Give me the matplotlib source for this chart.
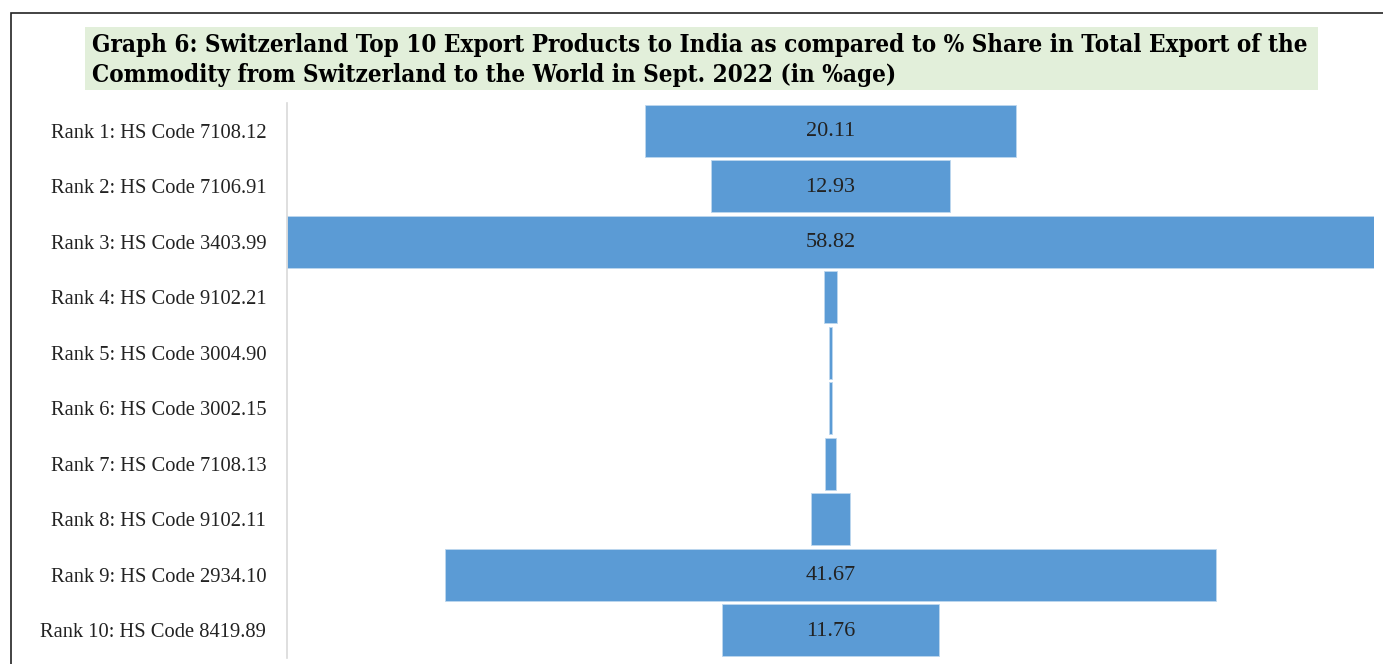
import matplotlib.pyplot as plt
from matplotlib.patches import Rectangle

ranks = ["Rank 1: HS Code 7108.12", "Rank 2: HS Code 7106.91", "Rank 3: HS Code 3403.99",
         "Rank 4: HS Code 9102.21", "Rank 5: HS Code 3004.90", "Rank 6: HS Code 3002.15",
         "Rank 7: HS Code 7108.13", "Rank 8: HS Code 9102.11", "Rank 9: HS Code 2934.10",
         "Rank 10: HS Code 8419.89"]
share = [20.11, 12.93, 58.82, 0.69, 0.18, 0.17, 0.58, 2.15, 41.67, 11.76]
shown = [True, True, True, False, False, False, False, False, True, True]

title = ("Graph 6: Switzerland Top 10 Export Products to India as compared to % Share in Total Export of the\n"
         "Commodity from Switzerland to the World in Sept. 2022 (in %age)")

fig = plt.figure(figsize=(13.83, 6.64), dpi=100)
W, H = 1383, 664

# outer frame
fig.patches.append(Rectangle((11 / W, -0.1), 1.2, (H - 13) / H + 0.1, transform=fig.transFigure,
                             fill=False, edgecolor='#222222', linewidth=1.2))
# title band
fig.patches.append(Rectangle((85 / W, 1 - 90 / H), (1318 - 85) / W, (90 - 27) / H,
                             transform=fig.transFigure, facecolor='#E2EFDA', edgecolor='none'))
fig.text(92 / W, 1 - 60 / H, title, ha='left', va='center', fontsize=17.4,
         fontweight='bold', family='DejaVu Serif', fontstretch='condensed', linespacing=1.3)

ax = fig.add_axes([287 / W, 1 - 658 / H, (1374 - 287) / W, (658 - 103) / H])
half = max(share) / 2
ys = list(range(len(share)))
ax.barh(ys, share, left=[-v / 2 for v in share], height=0.93, color='#5B9BD5',
        edgecolor='#BDD7EE', linewidth=0.6)
for y, v, s in zip(ys, share, shown):
    if s:
        ax.text(0, y + 0.02, f"{v:.2f}", ha='center', va='center', fontsize=16,
                family='Liberation Serif', color='#222222')
ax.set_xlim(-half, half)
ax.set_ylim(len(share) - 0.5, -0.5)
ax.set_yticks(ys)
ax.set_yticklabels(ranks, fontsize=14.8, family='Liberation Serif', color='#222222')
ax.tick_params(axis='y', length=0, pad=15)
ax.set_xticks([])
for sp in ['top', 'right', 'bottom']:
    ax.spines[sp].set_visible(False)
ax.spines['left'].set_color('#D9D9D9')
ax.spines['left'].set_linewidth(1.2)
ax.set_zorder(2)
ax.patch.set_visible(False)

fig.savefig('out.png', dpi=100)
